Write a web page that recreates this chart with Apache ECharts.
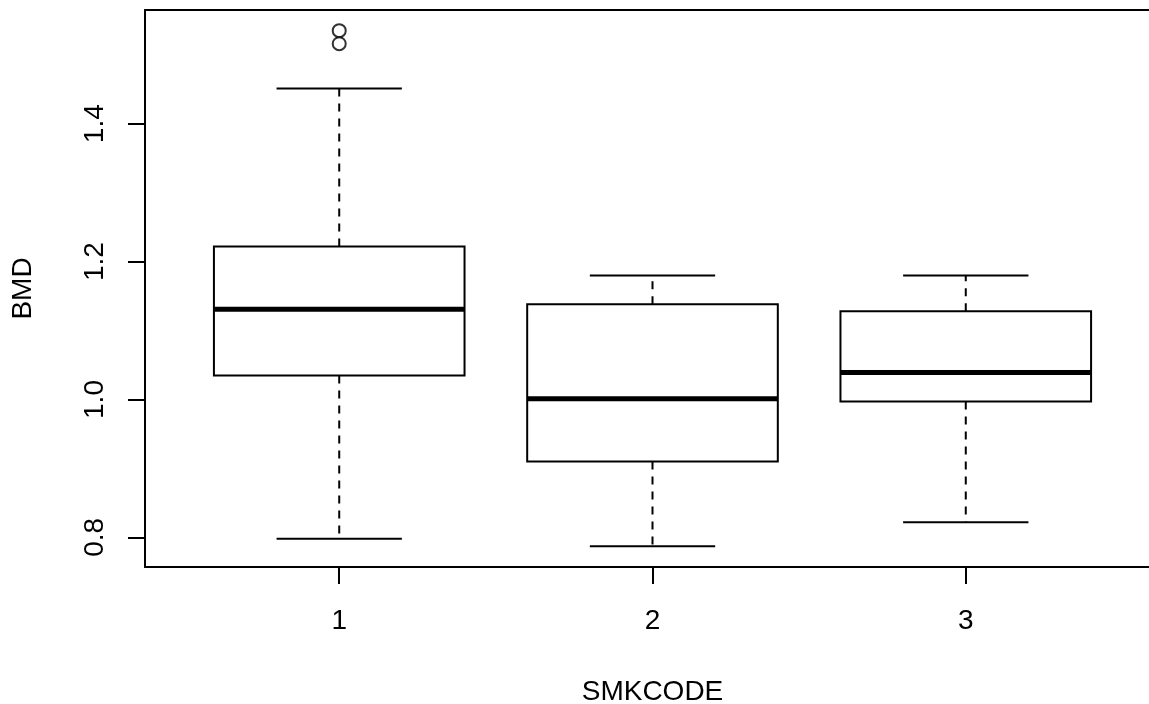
<!DOCTYPE html>
<html>
<head>
<meta charset="utf-8">
<title>BMD by SMKCODE</title>
<script src="https://cdn.jsdelivr.net/npm/echarts@6/dist/echarts.min.js"></script>
<style>
  html, body { margin: 0; padding: 0; background: #fff; }
  #chart { width: 1149px; height: 704px; }
</style>
</head>
<body>
<div id="chart"></div>
<script>
// Groups and their five-number summaries (BMD per smoking code)
const categories = ['1', '2', '3'];
const whiskerLow = [0.798, 0.787, 0.822];
const lowerQuartile = [1.035, 0.910, 0.997];
const medians = [1.131, 1.001, 1.039];
const upperQuartile = [1.222, 1.138, 1.128];
const whiskerHigh = [1.451, 1.180, 1.180];
// Points beyond the whiskers: [group position, value]
const outlierGroup = [1, 1];
const outlierValue = [1.535, 1.516];
const yTicks = [0.8, 1.0, 1.2, 1.4];

const FONT = "'Liberation Sans', Arial, sans-serif";
const FONT_SIZE = 28;
const BOX_WIDTH = 0.8;   // in group units
const CAP_WIDTH = 0.4;

// Axis extents padded by 4% on each side
const xMin = 0.5 - 0.04 * 3, xMax = 3.5 + 0.04 * 3;
const allVals = whiskerLow.concat(whiskerHigh, outlierValue);
const lo = Math.min.apply(null, allVals), hi = Math.max.apply(null, allVals);
const yMin = lo - 0.04 * (hi - lo), yMax = hi + 0.04 * (hi - lo);

const boxData = categories.map((c, i) => [i + 1, whiskerLow[i], lowerQuartile[i], medians[i], upperQuartile[i], whiskerHigh[i]]);
const outlierData = outlierGroup.map((g, i) => [g, outlierValue[i]]);

function renderBox(params, api) {
  const x = api.value(0);
  const pLow = api.coord([x, api.value(1)]);
  const pQ1 = api.coord([x, api.value(2)]);
  const pMed = api.coord([x, api.value(3)]);
  const pQ3 = api.coord([x, api.value(4)]);
  const pHigh = api.coord([x, api.value(5)]);
  const hb = api.size([BOX_WIDTH, 0])[0] / 2;
  const hc = api.size([CAP_WIDTH, 0])[0] / 2;
  const cx = pMed[0];
  const solid = { stroke: '#000', lineWidth: 2 };
  const dashed = { stroke: '#000', lineWidth: 2, lineDash: [8, 7] };
  return {
    type: 'group',
    children: [
      { type: 'line', shape: { x1: cx, y1: pQ3[1], x2: cx, y2: pHigh[1] }, style: dashed },
      { type: 'line', shape: { x1: cx, y1: pQ1[1], x2: cx, y2: pLow[1] }, style: dashed },
      { type: 'line', shape: { x1: cx - hc, y1: pHigh[1], x2: cx + hc, y2: pHigh[1] }, style: solid },
      { type: 'line', shape: { x1: cx - hc, y1: pLow[1], x2: cx + hc, y2: pLow[1] }, style: solid },
      { type: 'rect', shape: { x: cx - hb, y: pQ3[1], width: hb * 2, height: pQ1[1] - pQ3[1] },
        style: { fill: '#fff', stroke: '#000', lineWidth: 2 } },
      { type: 'line', shape: { x1: cx - hb, y1: pMed[1], x2: cx + hb, y2: pMed[1] },
        style: { stroke: '#000', lineWidth: 5 } }
    ]
  };
}

const frameLine = { show: true, lineStyle: { color: '#000', width: 2 } };

const chart = echarts.init(document.getElementById('chart'), null, { renderer: 'canvas' });
chart.setOption({
  animation: false,
  backgroundColor: '#fff',
  grid: {
    left: 145, top: 10, right: -11, bottom: 137,
    containLabel: false,
    outerBoundsMode: 'none',
    show: false
  },
  xAxis: [
    {
      type: 'value',
      position: 'bottom',
      min: xMin, max: xMax,
      name: 'SMKCODE',
      nameLocation: 'middle',
      nameGap: 111,
      nameTextStyle: { fontFamily: FONT, fontSize: FONT_SIZE, color: '#000' },
      axisLine: frameLine,
      splitLine: { show: false },
      axisTick: { show: true, length: 17, lineStyle: { color: '#000', width: 2 }, customValues: [1, 2, 3] },
      axisLabel: {
        customValues: [1, 2, 3],
        formatter: v => categories[Math.round(v) - 1],
        margin: 40, fontFamily: FONT, fontSize: FONT_SIZE, color: '#000'
      }
    },
    {
      // top edge of the plot frame
      type: 'value',
      position: 'top',
      min: xMin, max: xMax,
      axisLine: frameLine,
      axisTick: { show: false },
      axisLabel: { show: false },
      splitLine: { show: false }
    }
  ],
  yAxis: [
    {
      type: 'value',
      position: 'left',
      min: yMin, max: yMax,
      name: 'BMD',
      nameLocation: 'middle',
      nameGap: 108,
      nameRotate: 90,
      nameTextStyle: { fontFamily: FONT, fontSize: FONT_SIZE, color: '#000' },
      axisLine: frameLine,
      splitLine: { show: false },
      axisTick: { show: true, length: 17, lineStyle: { color: '#000', width: 2 }, customValues: yTicks },
      axisLabel: {
        customValues: yTicks,
        formatter: v => v.toFixed(1),
        rotate: 90,
        margin: 36, fontFamily: FONT, fontSize: FONT_SIZE, color: '#000'
      }
    }
  ],
  series: [
    {
      type: 'custom',
      renderItem: renderBox,
      encode: { x: 0, y: [1, 2, 3, 4, 5] },
      data: boxData,
      z: 2
    },
    {
      type: 'scatter',
      symbol: 'emptyCircle',
      symbolSize: 13,
      itemStyle: { color: '#000', borderColor: '#000', borderWidth: 2 },
      data: outlierData,
      z: 3
    }
  ]
});
</script>
</body>
</html>
